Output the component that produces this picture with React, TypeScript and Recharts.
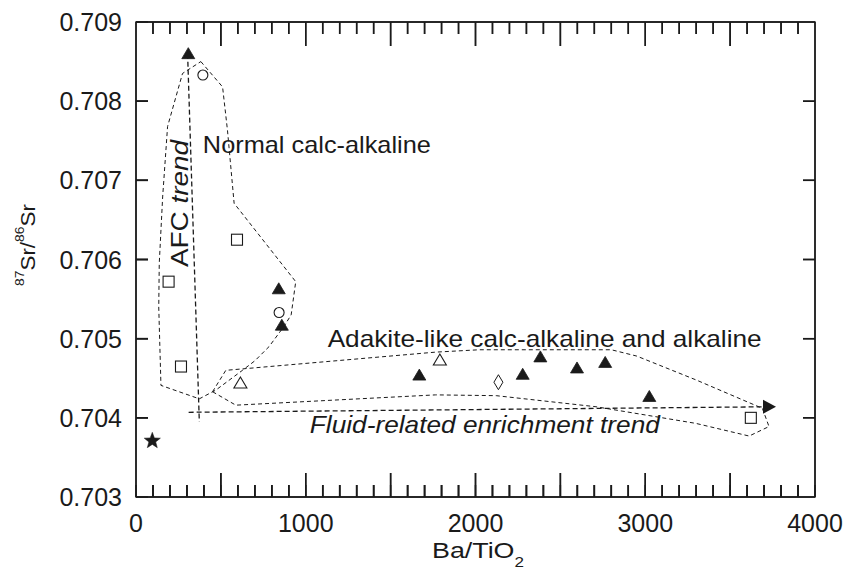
import React from 'react';
import { ScatterChart, Scatter, XAxis, YAxis, ReferenceArea, ReferenceDot, Label } from 'recharts';

const FONT = '"Liberation Sans", Arial, Helvetica, sans-serif';
const INK = '#1a1a1a';

// ---- axes ----
const X_DOMAIN = [0, 4000];
const Y_DOMAIN = [0.703, 0.709];
const X_TICK_LABELS = [0, 1000, 2000, 3000, 4000];
const X_ALL_TICKS = [
  0, 100, 200, 300, 400, 500, 600, 700, 800, 900,
  1000, 1100, 1200, 1300, 1400, 1500, 1600, 1700, 1800, 1900,
  2000, 2100, 2200, 2300, 2400, 2500, 2600, 2700, 2800, 2900,
  3000, 3100, 3200, 3300, 3400, 3500, 3600, 3700, 3800, 3900, 4000,
];
const X_MINOR_TICKS = [
  100, 200, 300, 400, 600, 700, 800, 900,
  1100, 1200, 1300, 1400, 1600, 1700, 1800, 1900,
  2100, 2200, 2300, 2400, 2600, 2700, 2800, 2900,
  3100, 3200, 3300, 3400, 3600, 3700, 3800, 3900,
];
const X_MAJOR_TICKS = [500, 1000, 1500, 2000, 2500, 3000, 3500];
const Y_TICKS = [0.703, 0.704, 0.705, 0.706, 0.707, 0.708, 0.709];
const Y_INNER_TICKS = [0.704, 0.705, 0.706, 0.707, 0.708];

// ---- samples: [Ba/TiO2, 87Sr/86Sr] ----
const filledTriangles = [
  [308, 0.7086], [841, 0.70563], [859, 0.70517], [1669, 0.70454], [2278, 0.70455],
  [2382, 0.70477], [2598, 0.70463], [2764, 0.7047], [3024, 0.70427],
];
const openTriangles = [[615, 0.70444], [1790, 0.70473]];
const openSquares = [[192, 0.70572], [265, 0.704648], [595, 0.70625], [3622, 0.704]];
const openCircles = [[394, 0.70833], [843, 0.70533]];
const openDiamonds = [[2135, 0.70445]];
const stars = [[96, 0.70371]];

// ---- field outlines and trends ----
const normalCalcOutline = [
  [382, 0.7085], [510, 0.70818], [539, 0.70763], [578, 0.70671], [941, 0.70572],
  [914, 0.7053], [870, 0.70515], [784, 0.7049], [700, 0.70472], [627, 0.7046],
  [470, 0.70435], [373, 0.70424], [147, 0.70441], [134, 0.7054], [137, 0.70595],
  [157, 0.70679], [186, 0.70768], [274, 0.70835], [382, 0.7085],
];
const adakiteOutline = [
  [451, 0.70433], [529, 0.7046], [1765, 0.70483], [2024, 0.70486], [2800, 0.70486],
  [2950, 0.70478], [3298, 0.70448], [3690, 0.70412], [3729, 0.70389], [3612, 0.70377],
  [3298, 0.70393], [2710, 0.70414], [2122, 0.70428], [1765, 0.70429], [588, 0.70416],
  [451, 0.70433],
];
const afcTrend = [[304, 0.7086], [373, 0.70395]];
const fluidTrend = [[310, 0.70407], [3735, 0.70414]];
const fluidArrowTip = [[3735, 0.70414]];

// ---- annotation anchors (start of text baseline) ----
const NORMAL_LABEL = { x: 394, y: 0.707345, text: 'Normal calc-alkaline' };
const ADAKITE_LABEL = { x: 1129, y: 0.704895, text: 'Adakite-like calc-alkaline and alkaline' };
const FLUID_LABEL = { x: 1024, y: 0.703808, text: 'Fluid-related enrichment trend' };
const AFC_LABEL = { x: 306, y: 0.705905 };

// ---- layout ----
const WIDTH = 846;
const HEIGHT = 569;
const MARGIN = { top: 22, right: 31, bottom: 0, left: 0 };
const Y_AXIS_W = 136;
const X_AXIS_H = 72;
const PLOT_W = WIDTH - MARGIN.left - MARGIN.right - Y_AXIS_W;
const PLOT_H = HEIGHT - MARGIN.top - MARGIN.bottom - X_AXIS_H;
const MINOR_LEN = 12;
const MAJOR_LEN = 24;
const TICK_W = 1.5;
// pixel -> data conversion used only for tick-mark lengths
const DX_PER_PX = (X_DOMAIN[1] - X_DOMAIN[0]) / PLOT_W;
const DY_PER_PX = (Y_DOMAIN[1] - Y_DOMAIN[0]) / PLOT_H;

const toPts = (a: number[][]) => a.map(([x, y]) => ({ x, y }));
const atY = (xs: number[], y: number) => xs.map((x) => ({ x, y }));
const atX = (ys: number[], x: number) => ys.map((y) => ({ x, y }));

// zig-zag tick paths running along a frame edge (edge segments overlap the frame)
const xTickPath = (edgeY: number, dir: number) => {
  const pts: { x: number; y: number }[] = [{ x: X_DOMAIN[0], y: edgeY }];
  const all = [...X_MINOR_TICKS, ...X_MAJOR_TICKS].sort((a, b) => a - b);
  all.forEach((v) => {
    const len = X_MAJOR_TICKS.includes(v) ? MAJOR_LEN : MINOR_LEN;
    pts.push({ x: v, y: edgeY });
    pts.push({ x: v, y: edgeY + dir * len * DY_PER_PX });
    pts.push({ x: v, y: edgeY });
  });
  pts.push({ x: X_DOMAIN[1], y: edgeY });
  return pts;
};
const yTickPath = (edgeX: number, dir: number) => {
  const pts: { x: number; y: number }[] = [{ x: edgeX, y: Y_DOMAIN[0] }];
  Y_INNER_TICKS.forEach((v) => {
    pts.push({ x: edgeX, y: v });
    pts.push({ x: edgeX + dir * MINOR_LEN * DX_PER_PX, y: v });
    pts.push({ x: edgeX, y: v });
  });
  pts.push({ x: edgeX, y: Y_DOMAIN[1] });
  return pts;
};

// tick label renderers (the built-in tick line is drawn inward via negative tickSize)
const XTickLabel = (props: any) => {
  const x = Number(props.x);
  const y = Number(props.y);
  const v = props.payload.value;
  if (!X_TICK_LABELS.includes(v)) return <g />;
  return (
    <text x={x} y={y + 35} textAnchor="middle" fontFamily={FONT} fontSize={25} fill={INK}>
      {v}
    </text>
  );
};

const YTickLabel = (props: any) => {
  const x = Number(props.x);
  const y = Number(props.y);
  return (
    <text x={x - 14} y={y + 9} textAnchor="end" fontFamily={FONT} fontSize={25} fill={INK}>
      {Number(props.payload.value).toFixed(3)}
    </text>
  );
};

// rectangle tick marks placed at data positions on the frame
const tickUp = (len: number) => (p: any) => (
  <rect x={p.cx - TICK_W / 2} y={p.cy - len} width={TICK_W} height={len} fill={INK} />
);
const tickDown = (len: number) => (p: any) => (
  <rect x={p.cx - TICK_W / 2} y={p.cy} width={TICK_W} height={len} fill={INK} />
);
const tickRight = (len: number) => (p: any) => (
  <rect x={p.cx} y={p.cy - TICK_W / 2} width={len} height={TICK_W} fill={INK} />
);
const tickLeft = (len: number) => (p: any) => (
  <rect x={p.cx - len} y={p.cy - TICK_W / 2} width={len} height={TICK_W} fill={INK} />
);

const FilledTriangle = (p: any) => (
  <polygon
    points={`${p.cx},${p.cy - 6} ${p.cx + 6.5},${p.cy + 5} ${p.cx - 6.5},${p.cy + 5}`}
    fill={INK}
    stroke={INK}
    strokeWidth={0.8}
  />
);
const OpenTriangle = (p: any) => (
  <polygon
    points={`${p.cx},${p.cy - 6} ${p.cx + 6.5},${p.cy + 5} ${p.cx - 6.5},${p.cy + 5}`}
    fill="#fff"
    stroke={INK}
    strokeWidth={1.1}
  />
);
const OpenSquare = (p: any) => (
  <rect x={p.cx - 5.5} y={p.cy - 5.5} width={11} height={11} fill="#fff" stroke={INK} strokeWidth={1.1} />
);
const OpenCircle = (p: any) => <circle cx={p.cx} cy={p.cy} r={5} fill="#fff" stroke={INK} strokeWidth={1.1} />;
const OpenDiamond = (p: any) => (
  <polygon
    points={`${p.cx},${p.cy - 7.5} ${p.cx + 4.5},${p.cy} ${p.cx},${p.cy + 7.5} ${p.cx - 4.5},${p.cy}`}
    fill="#fff"
    stroke={INK}
    strokeWidth={1}
  />
);
const Star = (p: any) => {
  const pts: string[] = [];
  for (let i = 0; i < 10; i++) {
    const r = i % 2 === 0 ? 8.5 : 3.6;
    const a = -Math.PI / 2 + (i * Math.PI) / 5;
    pts.push(`${p.cx + r * Math.cos(a)},${p.cy + r * Math.sin(a)}`);
  }
  return <polygon points={pts.join(' ')} fill={INK} stroke={INK} strokeWidth={0.5} />;
};
const ArrowHead = (p: any) => (
  <polygon points={`${p.cx - 7},${p.cy - 7} ${p.cx + 6},${p.cy} ${p.cx - 7},${p.cy + 7}`} fill={INK} />
);
const NoDot = () => <g />;

const solidTick = { stroke: INK, strokeWidth: TICK_W, fill: 'none' };
const dashed = { stroke: INK, strokeWidth: 1, strokeDasharray: '4 3', fill: 'none' };
const dashedHeavy = { stroke: INK, strokeWidth: 1.3, strokeDasharray: '5 3', fill: 'none' };

const textLabel = (text: string, len: number, italic = false) => (p: any) => (
  <text
    x={p.cx}
    y={p.cy}
    fontFamily={FONT}
    fontSize={24}
    fontStyle={italic ? 'italic' : 'normal'}
    fill={INK}
    textLength={len}
    lengthAdjust="spacingAndGlyphs"
  >
    {text}
  </text>
);

const afcLabel = (p: any) => (
  <text
    x={p.cx}
    y={p.cy}
    transform={`rotate(-90 ${p.cx} ${p.cy})`}
    fontFamily={FONT}
    fontSize={23}
    fill={INK}
    textLength={127}
    lengthAdjust="spacingAndGlyphs"
  >
    <tspan>AFC </tspan>
    <tspan fontStyle="italic">trend</tspan>
  </text>
);

const XAxisTitle = () => (
  <text x={478} y={558} textAnchor="middle" fontFamily={FONT} fontSize={22} fill={INK} textLength={92} lengthAdjust="spacingAndGlyphs">
    <tspan>Ba/TiO</tspan>
    <tspan fontSize={14} dy={9}>2</tspan>
  </text>
);

const YAxisTitle = () => {
  const cy = 245;
  const x = 35;
  return (
    <text
      x={x}
      y={cy}
      transform={`rotate(-90 ${x} ${cy})`}
      textAnchor="middle"
      fontFamily={FONT}
      fontSize={21}
      fill={INK}
      textLength={82}
      lengthAdjust="spacingAndGlyphs"
    >
      <tspan fontSize={13} dy={-11}>87</tspan>
      <tspan dy={11}>Sr/</tspan>
      <tspan fontSize={13} dy={-11}>86</tspan>
      <tspan dy={11}>Sr</tspan>
    </text>
  );
};

export default function App() {
  return (
    <div style={{ position: 'absolute', left: 0, top: 0, width: WIDTH, height: HEIGHT, background: '#fff' }}>
      <ScatterChart width={WIDTH} height={HEIGHT} margin={MARGIN}>
        <XAxis
          type="number"
          dataKey="x"
          domain={X_DOMAIN}
          ticks={X_ALL_TICKS}
          interval={0}
          tickSize={-MINOR_LEN}
          tickMargin={MINOR_LEN}
          axisLine={false}
          tickLine={{ stroke: INK, strokeWidth: TICK_W }}
          tick={(p: any) => <XTickLabel {...p} />}
          height={X_AXIS_H}
        >
          <Label content={() => <XAxisTitle />} />
        </XAxis>
        <YAxis
          type="number"
          dataKey="y"
          domain={Y_DOMAIN}
          ticks={Y_TICKS}
          interval={0}
          tickSize={-MINOR_LEN}
          tickMargin={MINOR_LEN}
          axisLine={false}
          tickLine={{ stroke: INK, strokeWidth: TICK_W }}
          tick={(p: any) => <YTickLabel {...p} />}
          width={Y_AXIS_W}
        >
          <Label content={() => <YAxisTitle />} />
        </YAxis>

        {/* inward tick marks on all four sides (zig-zag strokes along the frame) */}
        <Scatter data={xTickPath(Y_DOMAIN[0], 1)} line={solidTick} lineType="joint" shape={NoDot} fill="none" isAnimationActive={false} />
        <Scatter data={xTickPath(Y_DOMAIN[1], -1)} line={solidTick} lineType="joint" shape={NoDot} fill="none" isAnimationActive={false} />
        <Scatter data={yTickPath(X_DOMAIN[0], 1)} line={solidTick} lineType="joint" shape={NoDot} fill="none" isAnimationActive={false} />
        <Scatter data={yTickPath(X_DOMAIN[1], -1)} line={solidTick} lineType="joint" shape={NoDot} fill="none" isAnimationActive={false} />
        {/* same tick marks as filled bars (coincident with the strokes above) */}
        <Scatter data={atY(X_MINOR_TICKS, Y_DOMAIN[0])} shape={tickUp(MINOR_LEN)} isAnimationActive={false} />
        <Scatter data={atY(X_MAJOR_TICKS, Y_DOMAIN[0])} shape={tickUp(MAJOR_LEN)} isAnimationActive={false} />
        <Scatter data={atY(X_MINOR_TICKS, Y_DOMAIN[1])} shape={tickDown(MINOR_LEN)} isAnimationActive={false} />
        <Scatter data={atY(X_MAJOR_TICKS, Y_DOMAIN[1])} shape={tickDown(MAJOR_LEN)} isAnimationActive={false} />
        <Scatter data={atX(Y_INNER_TICKS, X_DOMAIN[0])} shape={tickRight(MINOR_LEN)} isAnimationActive={false} />
        <Scatter data={atX(Y_INNER_TICKS, X_DOMAIN[1])} shape={tickLeft(MINOR_LEN)} isAnimationActive={false} />

        <Scatter data={toPts(normalCalcOutline)} line={dashed} lineType="joint" shape={NoDot} fill="none" isAnimationActive={false} />
        <Scatter data={toPts(adakiteOutline)} line={dashed} lineType="joint" shape={NoDot} fill="none" isAnimationActive={false} />
        <Scatter data={toPts(afcTrend)} line={dashedHeavy} lineType="joint" shape={NoDot} fill="none" isAnimationActive={false} />
        <Scatter data={toPts(fluidTrend)} line={dashedHeavy} lineType="joint" shape={NoDot} fill="none" isAnimationActive={false} />
        <Scatter data={toPts(fluidArrowTip)} shape={ArrowHead} isAnimationActive={false} />

        <Scatter data={toPts(openSquares)} shape={OpenSquare} isAnimationActive={false} />
        <Scatter data={toPts(openCircles)} shape={OpenCircle} isAnimationActive={false} />
        <Scatter data={toPts(openDiamonds)} shape={OpenDiamond} isAnimationActive={false} />
        <Scatter data={toPts(openTriangles)} shape={OpenTriangle} isAnimationActive={false} />
        <Scatter data={toPts(filledTriangles)} shape={FilledTriangle} isAnimationActive={false} />
        <Scatter data={toPts(stars)} shape={Star} isAnimationActive={false} />

        <ReferenceDot x={NORMAL_LABEL.x} y={NORMAL_LABEL.y} r={0} ifOverflow="visible" shape={textLabel(NORMAL_LABEL.text, 228)} />
        <ReferenceDot x={ADAKITE_LABEL.x} y={ADAKITE_LABEL.y} r={0} ifOverflow="visible" shape={textLabel(ADAKITE_LABEL.text, 434)} />
        <ReferenceDot x={FLUID_LABEL.x} y={FLUID_LABEL.y} r={0} ifOverflow="visible" shape={textLabel(FLUID_LABEL.text, 350, true)} />
        <ReferenceDot x={AFC_LABEL.x} y={AFC_LABEL.y} r={0} ifOverflow="visible" shape={afcLabel} />

        <ReferenceArea
          x1={X_DOMAIN[0]}
          x2={X_DOMAIN[1]}
          y1={Y_DOMAIN[0]}
          y2={Y_DOMAIN[1]}
          fill="none"
          fillOpacity={0}
          stroke={INK}
          strokeWidth={1.3}
          ifOverflow="visible"
        />
      </ScatterChart>
    </div>
  );
}
